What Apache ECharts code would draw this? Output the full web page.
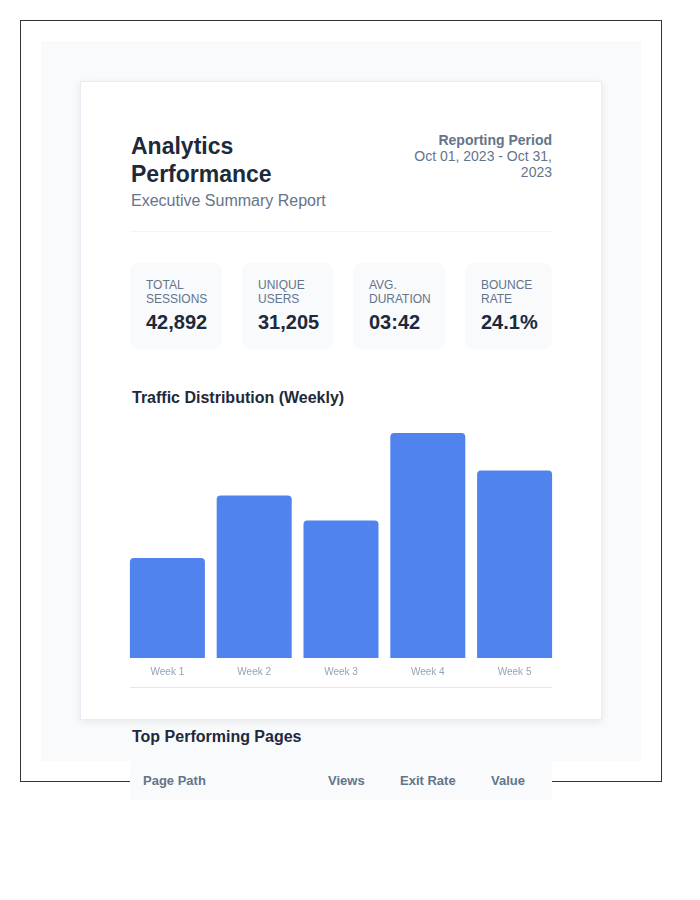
<!DOCTYPE html>
<html>
<head>
<meta charset="utf-8">
<script src="https://cdn.jsdelivr.net/npm/echarts@6/dist/echarts.min.js"></script>
<style>
  body { margin: 0; background: #fff; font-family: "Liberation Sans", Arial, sans-serif; }
  .abs { position: absolute; }
  #frame { left: 20px; top: 20px; width: 640px; height: 760px; border: 1px solid #333; }
  #bg { left: 41px; top: 41px; width: 600px; height: 720px; background: #f8fafc; }
  #card { left: 80px; top: 81px; width: 520px; height: 637px; background: #fff;
          border: 1px solid #e8edf3; box-shadow: 0 2px 8px rgba(0,0,0,0.08); }
  #title { left: 131px; top: 132px; font-size: 23px; line-height: 28px; font-weight: bold; color: #1e293b; }
  #subtitle { left: 131px; top: 191px; font-size: 16px; line-height: 20px; color: #64748b; }
  #period { left: 402px; top: 132px; width: 150px; text-align: right; font-size: 14px; line-height: 16px; color: #64748b; }
  #period b { color: #64748b; }
  #sep { left: 130px; top: 231px; width: 422px; height: 1px; background: #f1f5f9; }
  .kpi { top: 263px; height: 86px; background: #f8fafc; border-radius: 8px; box-sizing: border-box; padding: 15px 0 0 16px; }
  .kpi .lab { font-size: 12px; line-height: 14px; color: #64748b; }
  .kpi .val { font-size: 20px; line-height: 24px; font-weight: bold; color: #1e293b; margin-top: 4px; }
  #chartTitle { left: 132px; top: 388px; font-size: 16px; line-height: 20px; font-weight: bold; color: #1e293b; }
  #chart { left: 124px; top: 420px; width: 434px; height: 267px; }
  #chartLine { left: 130px; top: 687px; width: 422px; height: 1px; background: #e2e8f0; }
  #tableTitle { left: 132px; top: 727px; font-size: 16px; line-height: 20px; font-weight: bold; color: #1e293b; }
  #thead { left: 130px; top: 760px; width: 422px; height: 40px; background: #f8fafc; z-index: 5;
           font-size: 13px; font-weight: bold; color: #64748b; }
  #thead span { position: absolute; top: 13px; }
</style>
</head>
<body>
<div id="frame" class="abs"></div>
<div id="bg" class="abs"></div>
<div id="card" class="abs"></div>
<div id="title" class="abs">Analytics<br>Performance</div>
<div id="subtitle" class="abs">Executive Summary Report</div>
<div id="period" class="abs"><b>Reporting Period</b><br>Oct 01, 2023 - Oct 31, 2023</div>
<div id="sep" class="abs"></div>
<div id="kpis"></div>
<div id="chartTitle" class="abs">Traffic Distribution (Weekly)</div>
<div id="chart" class="abs"></div>
<div id="chartLine" class="abs"></div>
<div id="tableTitle" class="abs">Top Performing Pages</div>
<div id="thead" class="abs"></div>
<script>
const kpiLabels = ['TOTAL<br>SESSIONS', 'UNIQUE<br>USERS', 'AVG.<br>DURATION', 'BOUNCE<br>RATE'];
const kpiValues = ['42,892', '31,205', '03:42', '24.1%'];
const weeks = ['Week 1', 'Week 2', 'Week 3', 'Week 4', 'Week 5'];
const sessions = [4000, 6500, 5500, 9000, 7500];
const tableHeaders = ['Page Path', 'Views', 'Exit Rate', 'Value'];

// kpi card boxes
const kpiLeft = [130, 242, 353, 465];
const kpiWidth = [92, 91, 92, 87];
const kpiWrap = document.getElementById('kpis');
kpiLabels.forEach((l, i) => {
  const d = document.createElement('div');
  d.className = 'abs kpi';
  d.style.left = kpiLeft[i] + 'px';
  d.style.width = kpiWidth[i] + 'px';
  d.innerHTML = '<div class="lab">' + l + '</div><div class="val">' + kpiValues[i] + '</div>';
  kpiWrap.appendChild(d);
});

const headLeft = [13, 198, 270, 361];
const thead = document.getElementById('thead');
tableHeaders.forEach((h, i) => {
  const s = document.createElement('span');
  s.style.left = headLeft[i] + 'px';
  s.textContent = h;
  thead.appendChild(s);
});

const chart = echarts.init(document.getElementById('chart'));
chart.setOption({
  animation: false,
  grid: { left: 0, right: 0, top: 13, bottom: 29 },
  xAxis: {
    type: 'category',
    data: weeks,
    axisLine: { show: false },
    axisTick: { show: false },
    axisLabel: { color: '#94a3b8', fontSize: 10, margin: 9, fontFamily: 'Liberation Sans' }
  },
  yAxis: {
    type: 'value',
    min: 0,
    max: 9000,
    show: false,
    splitLine: { show: false }
  },
  series: [{
    type: 'bar',
    data: sessions,
    barWidth: 75,
    itemStyle: { color: '#5183ee', borderRadius: [4, 4, 0, 0] }
  }]
});
</script>
</body>
</html>
